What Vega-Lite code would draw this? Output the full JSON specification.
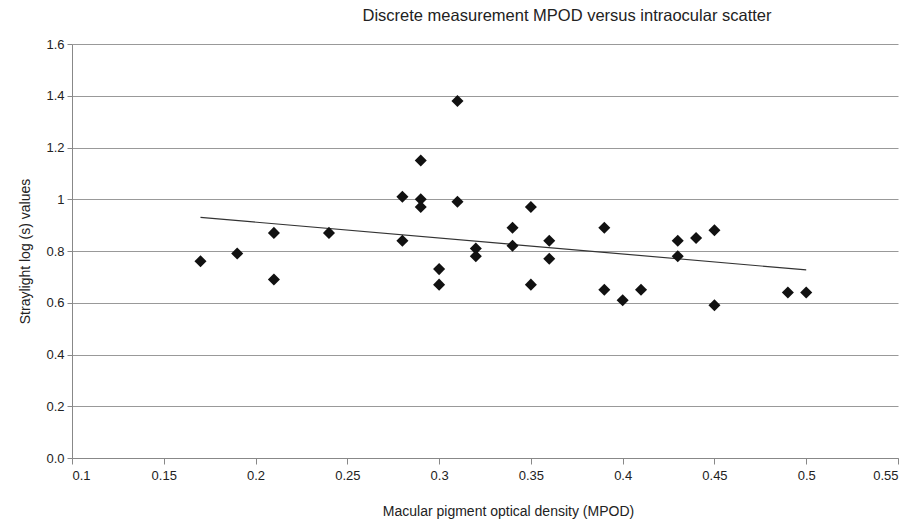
{
  "$schema": "https://vega.github.io/schema/vega-lite/v6.json",
  "autosize": "none",
  "width": 826,
  "height": 414,
  "padding": {"left": 72, "top": 44, "right": 19, "bottom": 68},
  "background": "white",
  "config": {
    "view": {"stroke": null},
    "font": "Liberation Sans",
    "axis": {"labelFont": "Liberation Sans", "titleFont": "Liberation Sans", "labelColor": "#222", "titleColor": "#222", "titleFontWeight": "normal", "labelFontSize": 13, "titleFontSize": 14, "domainColor": "#888", "tickColor": "#888", "gridColor": "#999"}
  },
  "title": {"text": "Discrete measurement MPOD versus intraocular scatter", "font": "Liberation Sans", "fontSize": 16.5, "fontWeight": "normal", "color": "#222", "anchor": "middle", "dx": 82, "offset": 14},
  "datasets": {
    "pts": [
      {"mpod": 0.17, "s": 0.76}, {"mpod": 0.19, "s": 0.79}, {"mpod": 0.21, "s": 0.87}, {"mpod": 0.21, "s": 0.69},
      {"mpod": 0.24, "s": 0.87}, {"mpod": 0.28, "s": 1.01}, {"mpod": 0.28, "s": 0.84}, {"mpod": 0.29, "s": 1.15},
      {"mpod": 0.29, "s": 1.0}, {"mpod": 0.29, "s": 0.97}, {"mpod": 0.30, "s": 0.73}, {"mpod": 0.30, "s": 0.67},
      {"mpod": 0.31, "s": 1.38}, {"mpod": 0.31, "s": 0.99}, {"mpod": 0.32, "s": 0.81}, {"mpod": 0.32, "s": 0.78},
      {"mpod": 0.34, "s": 0.89}, {"mpod": 0.34, "s": 0.82}, {"mpod": 0.35, "s": 0.97}, {"mpod": 0.35, "s": 0.67},
      {"mpod": 0.36, "s": 0.84}, {"mpod": 0.36, "s": 0.77}, {"mpod": 0.39, "s": 0.89}, {"mpod": 0.39, "s": 0.65},
      {"mpod": 0.40, "s": 0.61}, {"mpod": 0.41, "s": 0.65}, {"mpod": 0.43, "s": 0.84}, {"mpod": 0.43, "s": 0.78},
      {"mpod": 0.44, "s": 0.85}, {"mpod": 0.45, "s": 0.88}, {"mpod": 0.45, "s": 0.59}, {"mpod": 0.49, "s": 0.64},
      {"mpod": 0.50, "s": 0.64}
    ],
    "trend": [{"mpod": 0.17, "s": 0.93}, {"mpod": 0.50, "s": 0.727}]
  },
  "layer": [
    {
      "data": {"name": "trend"},
      "mark": {"type": "line", "color": "#333", "strokeWidth": 1.2},
      "encoding": {
        "x": {"field": "mpod", "type": "quantitative", "scale": {"domain": [0.1, 0.55], "nice": false, "zero": false},
          "axis": {"title": "Macular pigment optical density (MPOD)", "titleX": 436, "values": [0.1, 0.15, 0.2, 0.25, 0.3, 0.35, 0.4, 0.45, 0.5, 0.55], "format": "~g", "grid": false, "tickSize": 6, "labelPadding": 5, "titlePadding": 22}},
        "y": {"field": "s", "type": "quantitative", "scale": {"domain": [0, 1.6], "nice": false},
          "axis": {"title": "Straylight log (s) values", "values": [0, 0.2, 0.4, 0.6, 0.8, 1, 1.2, 1.4, 1.6], "format": "~g", "labelExpr": "datum.value === 0 ? '0.0' : datum.label", "grid": true, "tickSize": 5, "labelPadding": 3, "titlePadding": 13}}
      }
    },
    {
      "data": {"name": "pts"},
      "mark": {"type": "point", "shape": "diamond", "filled": true, "color": "#111", "size": 145, "opacity": 1},
      "encoding": {
        "x": {"field": "mpod", "type": "quantitative"},
        "y": {"field": "s", "type": "quantitative"}
      }
    }
  ]
}
